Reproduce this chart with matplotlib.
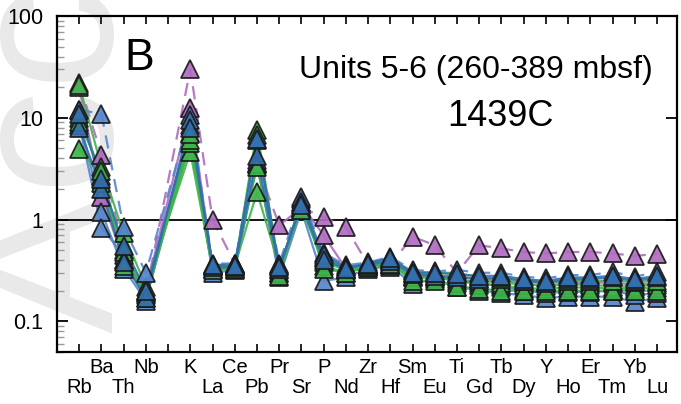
import numpy as np
import matplotlib
matplotlib.use('Agg')
import matplotlib.pyplot as plt

plt.rcParams['font.family'] = ['Liberation Sans', 'DejaVu Sans']

# --- data ---------------------------------------------------------------
tick_slots = ['Rb', 'Ba', 'Th', 'Nb', '', 'K', 'La', 'Ce', 'Pb', 'Pr', 'Sr', 'P', 'Nd',
              'Zr', 'Hf', 'Sm', 'Eu', 'Ti', 'Gd', 'Tb', 'Dy', 'Y', 'Ho', 'Er', 'Tm',
              'Yb', 'Lu']
elements = ['Rb', 'Ba', 'Th', 'Nb', 'K', 'La', 'Ce', 'Pb', 'Pr', 'Sr', 'P', 'Nd', 'Zr',
            'Hf', 'Sm', 'Eu', 'Ti', 'Gd', 'Tb', 'Dy', 'Y', 'Ho', 'Er', 'Tm', 'Yb', 'Lu']
upper_row = ['Ba', 'Nb', '', 'K', 'Ce', 'Pr', 'P', 'Zr', 'Sm', 'Ti', 'Tb', 'Y', 'Er', 'Yb']

#            Rb    Ba    Th    Nb    K     La    Ce    Pb    Pr    Sr    P     Nd    Zr
#            Hf    Sm    Eu    Ti    Gd    Tb    Dy    Y     Ho    Er    Tm    Yb    Lu
purple_a = [22.0, 4.3, 0.50, 0.19, 30.0, 1.00, 0.37, 3.5, 0.88, 1.30, 1.06, 0.84, 0.36,
            0.36, 0.68, 0.56, 0.30, 0.56, 0.52, 0.48, 0.465, 0.48, 0.48, 0.465, 0.44, 0.46]
purple_b = [20.0, 1.67, 0.40, 0.20, 12.4, 0.35, 0.37, 3.6, 0.30, 1.40, 0.70, 0.33, 0.35,
            0.37, 0.28, 0.28, 0.28, 0.26, 0.25, 0.24, 0.24, 0.24, 0.24, 0.24, 0.23, 0.24]
green_a = [21.0, 3.3, 0.73, 0.22, 4.6, 0.33, 0.34, 7.6, 0.32, 1.45, 0.35, 0.30, 0.35,
           0.38, 0.27, 0.27, 0.25, 0.23, 0.227, 0.21, 0.21, 0.215, 0.215, 0.21, 0.21, 0.215]
green_b = [4.9, 2.7, 0.48, 0.19, 5.6, 0.35, 0.35, 1.86, 0.35, 1.30, 0.38, 0.32, 0.36,
           0.40, 0.30, 0.29, 0.24, 0.25, 0.24, 0.23, 0.225, 0.23, 0.23, 0.22, 0.22, 0.23]
green_c = [12.0, 2.3, 0.40, 0.17, 6.0, 0.32, 0.33, 6.8, 0.28, 1.60, 0.33, 0.30, 0.34,
           0.37, 0.25, 0.25, 0.22, 0.21, 0.20, 0.20, 0.20, 0.20, 0.20, 0.20, 0.20, 0.20]
green_d = [9.0, 3.0, 0.35, 0.20, 7.0, 0.36, 0.36, 3.3, 0.36, 1.25, 0.42, 0.34, 0.37,
           0.41, 0.31, 0.30, 0.30, 0.27, 0.26, 0.25, 0.245, 0.25, 0.25, 0.25, 0.245, 0.25]
blue_a = [12.0, 10.9, 0.84, 0.30, 10.6, 0.37, 0.37, 6.0, 0.37, 1.67, 0.47, 0.355, 0.38,
          0.43, 0.32, 0.31, 0.32, 0.30, 0.30, 0.274, 0.265, 0.285, 0.285, 0.307, 0.274, 0.307]
blue_b = [10.0, 1.19, 0.33, 0.16, 7.1, 0.30, 0.32, 3.85, 0.27, 1.24, 0.25, 0.27, 0.33,
          0.345, 0.235, 0.26, 0.22, 0.20, 0.19, 0.18, 0.17, 0.175, 0.175, 0.175, 0.155, 0.17]
blue_c = [8.5, 0.83, 0.45, 0.18, 8.5, 0.33, 0.33, 3.5, 0.30, 1.30, 0.43, 0.32, 0.34,
          0.36, 0.27, 0.27, 0.26, 0.24, 0.22, 0.20, 0.19, 0.195, 0.195, 0.20, 0.18, 0.19]
blue_d = [8.0, 2.0, 0.38, 0.17, 9.5, 0.34, 0.34, 4.2, 0.33, 1.50, 0.45, 0.34, 0.36,
          0.39, 0.29, 0.28, 0.27, 0.26, 0.27, 0.25, 0.24, 0.26, 0.26, 0.27, 0.25, 0.27]
blue_e = [11.0, 2.5, 0.55, 0.20, 8.0, 0.36, 0.35, 6.2, 0.34, 1.40, 0.40, 0.33, 0.37,
          0.42, 0.30, 0.30, 0.29, 0.28, 0.28, 0.26, 0.25, 0.27, 0.27, 0.28, 0.26, 0.28]

PURPLE = '#b06cbf'
GREEN = '#3fb54a'
BLUE = '#336fae'
LBLUE = '#5586cc'

# (values, colour, linestyle) in drawing order
samples = [
    (purple_a, PURPLE, (0, (6, 4))),
    (purple_b, PURPLE, '-'),
    (blue_b, LBLUE, '-'),
    (blue_c, LBLUE, '-'),
    (green_a, GREEN, '-'),
    (green_b, GREEN, '-'),
    (green_c, GREEN, '-'),
    (green_d, GREEN, '-'),
    (blue_a, LBLUE, (0, (6, 4))),
    (blue_d, BLUE, '-'),
    (blue_e, BLUE, '-'),
]

xpos = np.array([tick_slots.index(e) for e in elements])

# --- figure -------------------------------------------------------------
fig = plt.figure(figsize=(6.81, 4.04), dpi=100)
ax = fig.add_axes([57 / 681, 1 - 352 / 404, 620 / 681, 336 / 404])
ax.set_facecolor('none')

# journal watermark, mostly cut off at the left edge
fig.text(-0.056, 0.176, 'Accepted Article', rotation=90, fontsize=150,
         color='#e9e9e9', ha='left', va='bottom', zorder=-5)

ax.axhline(1, color='black', lw=1.3, zorder=1.5)

for vals, col, ls in samples:
    ax.plot(xpos, vals, color=col, ls=ls, lw=1.6, alpha=0.9, zorder=2)
for vals, col, ls in samples:
    ax.plot(xpos, vals, ls='none', marker='^', ms=13, mfc=col, mec='#1a1a1a',
            mew=1.3, alpha=0.92, zorder=3)

ax.set_yscale('log')
ax.set_ylim(0.05, 100)
ax.set_xlim(-1, 26.9)

ax.set_yticks([0.1, 1, 10, 100])
ax.set_yticklabels(['0.1', '1', '10', '100'], fontsize=15.5)

top_idx = [i for i, e in enumerate(tick_slots) if e in upper_row]
bot_idx = [i for i, e in enumerate(tick_slots) if e not in upper_row]
ax.set_xticks(top_idx)
ax.set_xticklabels([tick_slots[i] for i in top_idx], fontsize=14.5)
ax.set_xticks(bot_idx, minor=True)
ax.set_xticklabels([tick_slots[i] for i in bot_idx], minor=True, fontsize=14.5)

ax.tick_params(axis='x', which='both', direction='in', top=True, bottom=True,
               length=5.5, width=1.2)
ax.tick_params(axis='x', which='major', pad=4)
ax.tick_params(axis='x', which='minor', pad=19)
ax.tick_params(axis='y', which='major', direction='in', left=True, right=True,
               length=8, width=1.3, pad=10)
ax.tick_params(axis='y', which='minor', direction='in', left=True, right=False,
               length=5, width=1.0, color='#9a9a9a', labelleft=False)
for s in ax.spines.values():
    s.set_linewidth(1.6)

fig.text(139 / 681, 1 - 58 / 404, 'B', fontsize=32, ha='center', va='center')
fig.text(476 / 681, 1 - 70 / 404, 'Units 5-6 (260-389 mbsf)', fontsize=23,
         ha='center', va='center')
fig.text(500 / 681, 1 - 117 / 404, '1439C', fontsize=26, ha='center', va='center')

fig.savefig('out.png', dpi=100)
